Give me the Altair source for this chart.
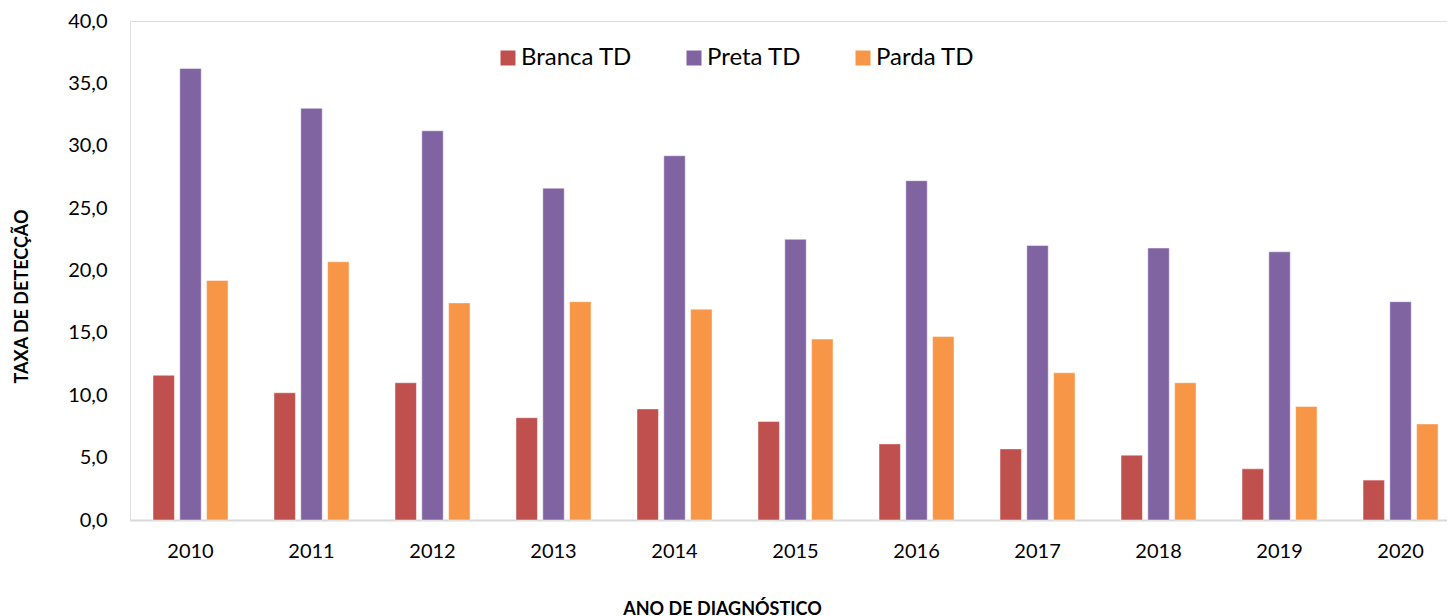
import altair as alt
import pandas as pd

anos = ["2010", "2011", "2012", "2013", "2014", "2015", "2016", "2017", "2018", "2019", "2020"]
series = ["Branca TD", "Preta TD", "Parda TD"]
branca = [11.6, 10.2, 11.0, 8.2, 8.9, 7.9, 6.1, 5.7, 5.2, 4.1, 3.2]
preta = [36.2, 33.0, 31.2, 26.6, 29.2, 22.5, 27.2, 22.0, 21.8, 21.5, 17.5]
parda = [19.2, 20.7, 17.4, 17.5, 16.9, 14.5, 14.7, 11.8, 11.0, 9.1, 7.7]
colors = ["#C0504D", "#8064A2", "#F79646"]
y_ticks = [0, 5, 10, 15, 20, 25, 30, 35, 40]

rows = []
for name, vals in zip(series, [branca, preta, parda]):
    for ano, v in zip(anos, vals):
        rows.append({"ano": ano, "raca": name, "taxa": v})
df = pd.DataFrame(rows)

FONT = "Lato"

chart = (
    alt.Chart(df)
    .mark_bar(stroke="#FFFFFF", strokeWidth=1, strokeOpacity=0.45)
    .encode(
        x=alt.X(
            "ano:N",
            sort=anos,
            scale=alt.Scale(paddingInner=0.38, paddingOuter=0.132, align=0.72),
            axis=alt.Axis(
                title="ANO DE DIAGNÓSTICO",
                labelAngle=0,
                labelFont=FONT,
                labelFontSize=20,
                labelColor="#000000",
                labelBaseline="middle",
                labelPadding=31,
                ticks=False,
                tickSize=0,
                domainColor="#D9D9D9",
                domainWidth=2,
                grid=False,
                titleFont=FONT,
                titleFontSize=18,
                titleFontWeight="bold",
                titleColor="#000000",
                titleAnchor="start",
                titleAlign="center",
                titleBaseline="alphabetic",
                titleX=592,
                titleY=94,
            ),
        ),
        xOffset=alt.XOffset("raca:N", sort=series, scale=alt.Scale(paddingInner=0.2)),
        y=alt.Y(
            "taxa:Q",
            scale=alt.Scale(domain=[0, 40], nice=False),
            axis=alt.Axis(
                title="TAXA DE DETECÇÃO",
                values=y_ticks,
                labelExpr="replace(format(datum.value, '.1f'), '.', ',')",
                labelFont=FONT,
                labelFontSize=20,
                labelColor="#000000",
                labelPadding=23,
                ticks=False,
                tickSize=0,
                domain=False,
                grid=False,
                titleFont=FONT,
                titleFontSize=18,
                titleFontWeight="bold",
                titleColor="#000000",
                titleAngle=270,
                titleAlign="center",
                titleBaseline="middle",
                titleX=-108,
                titleY=275,
            ),
        ),
        color=alt.Color(
            "raca:N",
            sort=series,
            scale=alt.Scale(domain=series, range=colors),
            legend=alt.Legend(
                title=None,
                orient="none",
                direction="horizontal",
                legendX=366,
                legendY=25,
                symbolType="square",
                symbolSize=225,
                symbolStrokeWidth=0,
                symbolOpacity=1,
                labelFont=FONT,
                labelFontSize=24,
                labelColor="#000000",
                labelOffset=1,
                columnPadding=49,
            ),
        ),
    )
    .properties(
        width=1317,
        height=499,
        autosize=alt.AutoSizeParams(type="none"),
        padding={"left": 122, "top": 13, "right": 0, "bottom": 100},
    )
    .configure_view(fill="#F2F2F2", stroke=None)
    .configure(background="#FFFFFF")
)

chart.save("out.html", embed_options={"renderer": "svg", "actions": False})
